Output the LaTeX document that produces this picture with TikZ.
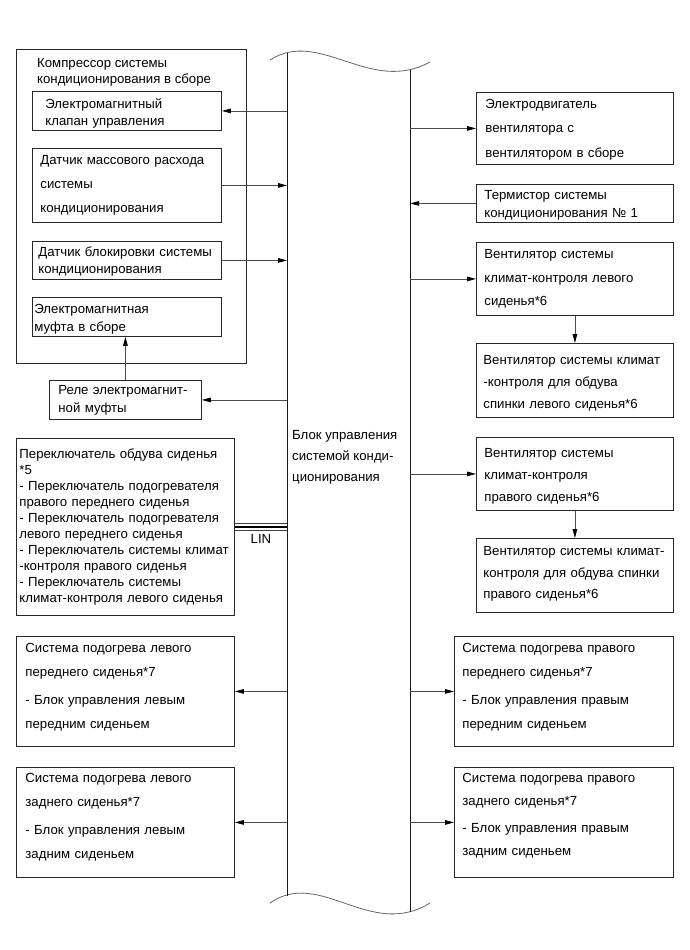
\documentclass[tikz,border=0pt]{standalone}
\usepackage{fontspec}
\setmainfont{Liberation Sans}
\usetikzlibrary{arrows.meta}
% invisible struts that move text inside a fixed box
\newcommand{\padtop}[1]{\rule{0pt}{#1}}
\newcommand{\padbot}[1]{\rule[-#1]{0pt}{0pt}}

\begin{document}
\begin{tikzpicture}[x=1pt,y=-1pt,
  box/.style={draw=black!85,line width=.85pt,anchor=north west,align=left,inner ysep=0pt,font=\fontsize{13.2}{17}\selectfont},
  lh/.style={font=\fontsize{13.2}{#1}\selectfont},
  frame/.style={draw=black!85,line width=.85pt,anchor=north west,inner sep=0pt},
  arr/.style={draw=black!70,line width=.75pt,-{Triangle[length=9pt,width=4.6pt,color=black]}},
  bus/.style={draw=black!90,line width=.9pt},
  wave/.style={draw=black!60,line width=.8pt},
  lin/.style={draw=black!75,line width=.6pt}]
  \useasboundingbox (0,0) rectangle (689,950);
  % control unit: two rails cut by wavy breaks
  \coordinate (busL) at (287,500);
  \coordinate (busR) at (410,500);
  \draw[wave] (270,60) .. controls (320,28) and (370,95) .. (430,62);
  \draw[wave] (270,903) .. controls (320,868) and (370,940) .. (430,903);
  \draw[bus] (287,53.2) -- (287,895.5);
  \draw[bus] (410,70) -- (410,912);
  \node[anchor=west,align=left,inner sep=0pt,lh=21] (blok) at (292,457.5)
    {Блок управления\\системой конди-\\ционирования};
  % compressor assembly
  \node[frame,minimum width=230pt,minimum height=314pt] (komp) at (16,49) {};
  \node[anchor=west,align=left,inner sep=0pt,lh=16] (kompT) at (37,72.5)
    {Компрессор системы\\кондиционирования в сборе};
  \node[box,inner xsep=13pt,text width=163pt,minimum height=39pt] (klapan) at (32,91)
    {\padtop{15.5pt}Электромагнитный\\клапан управления};
  \node[box,lh=24,inner xsep=8pt,text width=173pt,minimum height=74pt] (dmr) at (32,148)
    {Датчик массового расхода\\системы\\кондиционирования};
  \node[box,inner xsep=6pt,text width=177pt,minimum height=38pt] (dblk) at (32,241)
    {\padtop{11pt}Датчик блокировки системы\\кондиционирования};
  \node[box,lh=18,inner xsep=2pt,text width=185pt,minimum height=39pt] (mufta) at (32,297)
    {\padtop{13.5pt}Электромагнитная\\муфта в сборе};
  \node[box,lh=18,inner xsep=9pt,text width=134pt,minimum height=39pt] (rele) at (49,380)
    {Реле электромагнит-\\ной муфты};
  % left side
  \node[box,lh=16,inner xsep=3pt,text width=212pt,minimum height=177pt] (pereklo) at (16,438)
    {Переключатель обдува сиденья\\{*}5\\- Переключатель подогревателя\\правого переднего сиденья\\- Переключатель подогревателя\\левого переднего сиденья\\- Переключатель системы климат\\-контроля правого сиденья\\- Переключатель системы\\климат-контроля левого сиденья};
  \node[box,lh=23.5,inner xsep=9pt,text width=200pt,minimum height=110pt] (podLF) at (16,636)
    {Система подогрева левого\\переднего сиденья*7\\[5pt]- Блок управления левым\\передним сиденьем\padbot{11pt}};
  \node[box,lh=24,inner xsep=9pt,text width=200pt,minimum height=110pt] (podLR) at (16,767)
    {Система подогрева левого\\заднего сиденья*7\\[4pt]- Блок управления левым\\задним сиденьем\padbot{13pt}};
  % right side
  \node[box,lh=24.5,inner xsep=9pt,text width=179pt,minimum height=72pt] (motor) at (476,92)
    {\padtop{11pt}Электродвигатель\\вентилятора с\\вентилятором в сборе};
  \node[box,lh=18,inner xsep=8pt,text width=181pt,minimum height=38pt] (termo) at (476,184)
    {\padtop{13.5pt}Термистор системы\\кондиционирования № 1};
  \node[box,lh=23.5,inner xsep=8pt,text width=181pt,minimum height=73pt] (ventL) at (476,242)
    {Вентилятор системы\\климат-контроля левого\\сиденья*6};
  \node[box,lh=22,inner xsep=7pt,text width=183pt,minimum height=74pt] (ventLS) at (476,343)
    {\padtop{15.5pt}Вентилятор системы климат\\-контроля для обдува\\спинки левого сиденья*6};
  \node[box,lh=22,inner xsep=8pt,text width=181pt,minimum height=73pt] (ventR) at (476,437)
    {\padtop{13.5pt}Вентилятор системы\\климат-контроля\\правого сиденья*6};
  \node[box,lh=21.5,inner xsep=7pt,text width=183pt,minimum height=74pt] (ventRS) at (476,538)
    {Вентилятор системы климат-\\контроля для обдува спинки\\правого сиденья*6\padbot{5pt}};
  \node[box,lh=23.5,inner xsep=8pt,text width=203pt,minimum height=110pt] (podRF) at (454,636)
    {Система подогрева правого\\переднего сиденья*7\\[5pt]- Блок управления правым\\передним сиденьем\padbot{11pt}};
  \node[box,lh=23,inner xsep=8pt,text width=203pt,minimum height=110pt] (podRR) at (454,767)
    {Система подогрева правого\\заднего сиденья*7\\[4pt]- Блок управления правым\\задним сиденьем\padbot{17pt}};
  % signal lines
  \draw[arr] (busL |- klapan.east) -- (klapan.east);
  \draw[arr] (dmr.east) -- (busL |- dmr.east);
  \draw[arr] (dblk.east) -- (busL |- dblk.east);
  \draw[arr] (busL |- rele.east) -- (rele.east);
  \draw[arr] (rele.north) -- (rele.north |- mufta.south);
  \draw[arr] (busL |- podLF.east) -- (podLF.east);
  \draw[arr] (busL |- podLR.east) -- (podLR.east);
  \draw[arr] (busR |- motor.west) -- (motor.west);
  \draw[arr] (termo.west) -- (busR |- termo.west);
  \draw[arr] (busR |- ventL.west) -- (ventL.west);
  \draw[arr] (ventL.south) -- (ventLS.north);
  \draw[arr] (busR |- ventR.west) -- (ventR.west);
  \draw[arr] (ventR.south) -- (ventRS.north);
  \draw[arr] (busR |- podRF.west) -- (podRF.west);
  \draw[arr] (busR |- podRR.west) -- (podRR.west);
  % LIN bus
  \draw[lin,transform canvas={yshift=3.7pt}] (pereklo.east) -- (busL |- pereklo.east);
  \draw[line width=2.3pt] (pereklo.east) -- (busL |- pereklo.east);
  \draw[lin,transform canvas={yshift=-3pt}] (pereklo.east) -- (busL |- pereklo.east);
  \node[font=\fontsize{13.2}{15}\selectfont] (lin) at (261,539) {LIN};
\end{tikzpicture}
\end{document}
